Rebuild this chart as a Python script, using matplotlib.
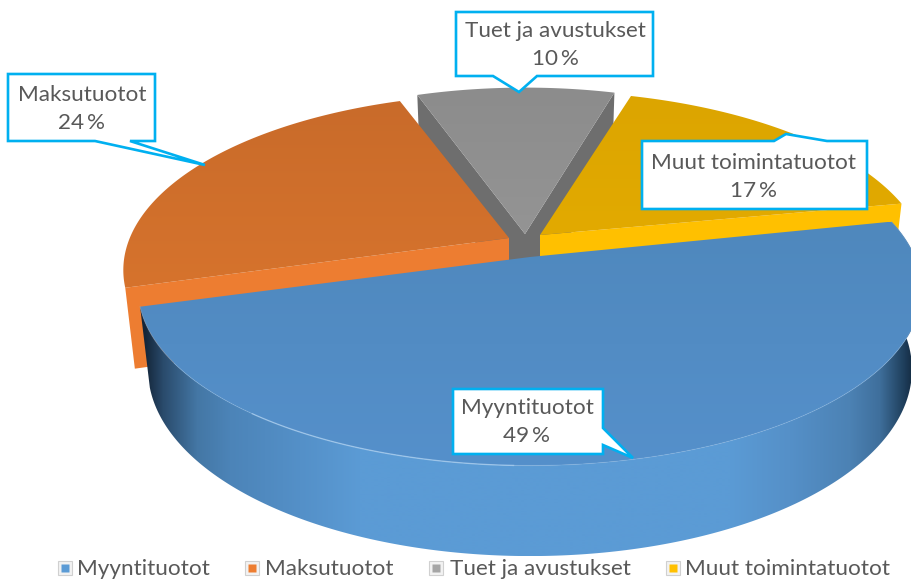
"""
Exploded 3D pie of income shares, drawn with polygons in pixel coordinates.
"""
import numpy as np
import matplotlib
matplotlib.use("Agg")
import matplotlib.pyplot as plt
from matplotlib.colors import to_rgb
from matplotlib.patches import Polygon

categories = ["Myyntituotot", "Maksutuotot", "Tuet ja avustukset", "Muut toimintatuotot"]
shares = [49, 24, 10, 17]

plt.rcParams['font.family'] = ['Lato', 'DejaVu Sans']

# colours: top surface far/near, side
top_far = ["#4f88bd", "#c96b2a", "#8c8c8c", "#dca500"]
top_near = ["#5590cb", "#d6732d", "#949494", "#e2aa00"]
side_col = ["#5b9bd5", "#ed7d31", "#6e6e6e", "#ffc000"]
legend_col = ["#5b9bd5", "#ed7d31", "#a5a5a5", "#ffc000"]

# pie geometry in pixels
R = 385
PERSP = 0.185
DEPTH = 78
SHRINK = 0.025
START = 12.5
centers = [(530, 257), (509, 238), (525, 234), (540, 235)]
radii = [1.0, 0.985, 0.97, 0.99]
tilts = [170, 173, 178, 172]


def project(i, theta, r=1.0, z=0.0):
    # slice i, theta in degrees on the unit disk, z=0 top surface, z=1 bottom
    X = r * np.cos(np.radians(theta))
    Y = r * np.sin(np.radians(theta))
    s = 1 / (1 + PERSP * Y)
    x = centers[i][0] + R * X * s * (1 - SHRINK * z)
    y = centers[i][1] - tilts[i] * Y * s * (1 - SHRINK * z) + DEPTH * s * z
    return x, y


def wedge_poly(i, t0, t1):
    xs, ys = project(i, np.linspace(t0, t1, 120), radii[i])
    return np.vstack([[centers[i]], np.column_stack([xs, ys])])


def wall(i, theta):
    return [project(i, theta, 0), project(i, theta, radii[i]),
            project(i, theta, radii[i], 1), project(i, theta, 0, 1)]


def fill_top(ax, poly, far, near, zorder):
    # vertical gradient clipped to the slice
    ymin, ymax = poly[:, 1].min(), poly[:, 1].max()
    xmin, xmax = poly[:, 0].min(), poly[:, 0].max()
    w = np.linspace(0, 1, 64)[:, None, None]
    grad = (1 - w) * np.array(to_rgb(far)) + w * np.array(to_rgb(near))
    im = ax.imshow(grad, extent=(xmin, xmax, ymax, ymin), aspect='auto', zorder=zorder, interpolation='bilinear')
    im.set_clip_path(Polygon(poly, closed=True, transform=ax.transData))


def callout(ax, outline, label, text_xy):
    ax.add_patch(Polygon(outline, closed=True, fc="white", ec="#00b0f0", lw=1.9, zorder=20, joinstyle='miter'))
    ax.text(text_xy[0], text_xy[1], label, ha='center', va='center', fontsize=16.2, color="#595959",
            linespacing=1.45, zorder=21)


fig = plt.figure(figsize=(9.12, 5.83), dpi=100)
ax = fig.add_axes([0, 0, 1, 1])

# slice angles, clockwise from START
spans = [360 * v / sum(shares) for v in shares]
ends = START - np.cumsum(spans)
starts = ends + np.array(spans)
yellow_end = ends[3] - 1.5  # corner sits a bit lower in the picture

# gray walls go under the neighbouring slices
for t in (starts[2], ends[2]):
    ax.add_patch(Polygon(wall(2, t), closed=True, fc=side_col[2], ec='none', zorder=1))
fill_top(ax, wedge_poly(2, starts[2], ends[2]), top_far[2], top_near[2], 2)

# orange and yellow front walls
ax.add_patch(Polygon(wall(1, starts[1]), closed=True, fc=side_col[1], ec='none', zorder=3))
ax.add_patch(Polygon(wall(3, yellow_end), closed=True, fc=side_col[3], ec='none', zorder=3))
fill_top(ax, wedge_poly(1, starts[1], ends[1]), top_far[1], top_near[1], 4)
fill_top(ax, wedge_poly(3, starts[3], yellow_end), top_far[3], top_near[3], 4)

# blue rim, shaded left to right as a gradient clipped to the side band
stop_x = [145, 163, 197, 230, 300, 360, 730, 790, 850, 880, 905, 915]
stop_cols = ["#14263a", "#2a4b6c", "#4477a5", "#4c84b8", "#5490c8", "#5b9bd5",
             "#5b9bd5", "#5590c8", "#4c82b4", "#3f6f9c", "#1e3d5a", "#12283c"]
stop_rgb = np.array([to_rgb(c) for c in stop_cols])
arc = np.linspace(starts[0], ends[0], 241)
rim_x, rim_y = project(0, arc)
low_x, low_y = project(0, arc, 1, 1)
band = np.vstack([np.column_stack([rim_x, rim_y]), np.column_stack([low_x, low_y])[::-1]])
cols_x = np.arange(int(band[:, 0].min()), int(band[:, 0].max()) + 1)
shade = np.stack([np.interp(cols_x, stop_x, stop_rgb[:, k]) for k in range(3)], axis=-1)[None, :, :]
side_im = ax.imshow(shade, extent=(cols_x[0], cols_x[-1], band[:, 1].max(), band[:, 1].min()), aspect='auto',
                    zorder=5, interpolation='bilinear')
side_im.set_clip_path(Polygon(band, closed=True, transform=ax.transData))

# blue top and the faint highlight on its rim
blue_poly = wedge_poly(0, starts[0], ends[0])
fill_top(ax, blue_poly, top_far[0], top_near[0], 6)
ax.plot(blue_poly[1:, 0], blue_poly[1:, 1], color="#8dbbe6", lw=0.8, alpha=0.3, zorder=7)
hx, hy = project(0, np.linspace(-128, -92, 40))
ax.plot(hx, hy, color="#b5d6f3", lw=1.0, alpha=0.55, zorder=7)

# callouts
labels = [f"{c}\n{v}\u2009%" for c, v in zip(categories, shares)]
callout(ax, [(453, 389), (603, 389), (603, 428), (633, 458), (603, 445), (603, 454), (453, 454)], labels[0], (527, 422))
callout(ax, [(8, 74), (155, 74), (155, 141), (130, 141), (205, 165), (95, 141), (8, 141)], labels[1], (82, 109))
callout(ax, [(456, 12), (653, 12), (653, 76), (537, 76), (519, 92), (493, 76), (456, 76)], labels[2], (555, 45))
callout(ax, [(642, 141), (774, 141), (786, 134), (827, 141), (867, 141), (867, 209), (642, 209)], labels[3], (754, 177))

# legend
legend_mark = [65, 252, 436, 673]
legend_text = [77, 265, 450, 685]
for name, col, mx, tx in zip(categories, legend_col, legend_mark, legend_text):
    ax.plot([mx], [568], 's', ms=10, mfc="#f2f2f2", mec="#d0d0d0", mew=0.8, zorder=10)
    ax.plot([mx], [568], 's', ms=6, mfc=col, mec='none', zorder=11)
    ax.text(tx, 569, name, ha='left', va='center', fontsize=16.2, color="#595959", zorder=11)

ax.set_xlim(0, 912)
ax.set_ylim(583, 0)
ax.axis('off')
fig.savefig("out.png", dpi=100)
